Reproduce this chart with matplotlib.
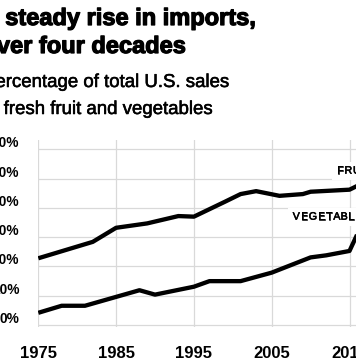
import matplotlib
matplotlib.use("Agg")
import matplotlib.pyplot as plt
from matplotlib import patheffects
from matplotlib.font_manager import FontProperties
from matplotlib.patches import Rectangle
from matplotlib.transforms import Affine2D

# import share, % of total U.S. sales
FRUIT_YEARS = [1975, 1982, 1985, 1989, 1993, 1995, 1999, 2001, 2003, 2006,
               2009, 2010, 2015, 2016]
FRUIT = [22.8, 28.4, 33.2, 34.7, 37.2, 37.0, 42.1, 44.7, 45.7, 44.1,
         44.7, 45.5, 46.2, 47.5]
VEG_YEARS = [1975, 1978, 1981, 1988, 1990, 1995, 1997, 2001, 2005, 2010,
             2012, 2015, 2016]
VEG = [4.2, 6.6, 6.6, 11.9, 10.4, 13.1, 15.0, 15.0, 17.9, 23.1,
       23.8, 25.3, 31.0]
X_TICKS = [1975, 1985, 1995, 2005, 2015]
Y_TICKS = [0, 10, 20, 30, 40, 50, 60]

FONT = "Liberation Sans"
GRID = "#d9d9d9"
heavy = [patheffects.withStroke(linewidth=0.9, foreground="black")]
semi = [patheffects.withStroke(linewidth=0.4, foreground="black")]

fig = plt.figure(figsize=(3.56, 3.64), dpi=100)
ax = fig.add_axes([0.1076, 0.102, 0.896, 0.513])
ax.set_xlim(1975, 2016)
ax.set_ylim(-0.6, 63.1)

for x in X_TICKS:
    ax.axvline(x, color=GRID, lw=0.9, zorder=0)
for y in Y_TICKS:
    ax.axhline(y, color=GRID, lw=0.9, zorder=0)

ax.plot(FRUIT_YEARS, FRUIT, color="black", lw=3.1,
        solid_joinstyle="round", solid_capstyle="butt", zorder=3)
ax.plot(VEG_YEARS, VEG, color="black", lw=3.1,
        solid_joinstyle="round", solid_capstyle="butt", zorder=3)

for s in ax.spines.values():
    s.set_visible(False)
ax.set_yticks([])
ax.set_xticks(X_TICKS)
ax.set_xticklabels([str(x) for x in X_TICKS], fontsize=12,
                   fontweight="bold", family=FONT)
ax.tick_params(axis="x", length=0, pad=14)

for y in Y_TICKS:
    ax.annotate(f"{y}%", xy=(0, y), xycoords=("axes fraction", "data"),
                xytext=(-19, 6), textcoords="offset pixels",
                ha="right", va="center", fontsize=9.9, fontweight="bold",
                family=FONT)


def tracked(x, y, s, size, track):
    """Letter-spaced label with a white box behind it."""
    renderer = fig.canvas.get_renderer()
    prop = FontProperties(family=FONT, size=size)
    offs = []
    for i in range(len(s)):
        w = renderer.get_text_width_height_descent(s[:i], prop, False)[0] if i else 0
        offs.append(w + i * track)
    total = renderer.get_text_width_height_descent(s, prop, False)[0]
    total += (len(s) - 1) * track
    px, py = ax.transData.transform((x, y))
    ax.add_patch(Rectangle((-5, -9), total + 10, 18, facecolor="white",
                           edgecolor="none", zorder=2,
                           transform=Affine2D().translate(px, py)))
    for ch, dx in zip(s, offs):
        ax.annotate(ch, xy=(x, y), xytext=(dx, 0), textcoords="offset pixels",
                    fontproperties=prop, va="center", ha="left", zorder=2.5,
                    path_effects=semi)


tracked(2013.4, 52.7, "FRUIT", 7.7, 0.9)
tracked(2007.7, 37.0, "VEGETABLES", 7.7, 0.9)

# headline and subhead (the picture is cropped on the left)
fig.text(-17.5 / 356, 1 - 25 / 364, "A steady rise in imports,", fontsize=17,
         fontweight="bold", family=FONT, va="baseline", path_effects=heavy)
fig.text(-17.5 / 356, 1 - 53 / 364, "over four decades", fontsize=17,
         fontweight="bold", family=FONT, va="baseline", path_effects=heavy)
fig.text(-17 / 356, 1 - 87 / 364, "Percentage of total U.S. sales",
         fontsize=13.4, family=FONT, va="baseline", path_effects=semi)
fig.text(-17 / 356, 1 - 114 / 364, "of fresh fruit and vegetables",
         fontsize=13.4, family=FONT, va="baseline", path_effects=semi)

fig.savefig("out.png", dpi=100)
